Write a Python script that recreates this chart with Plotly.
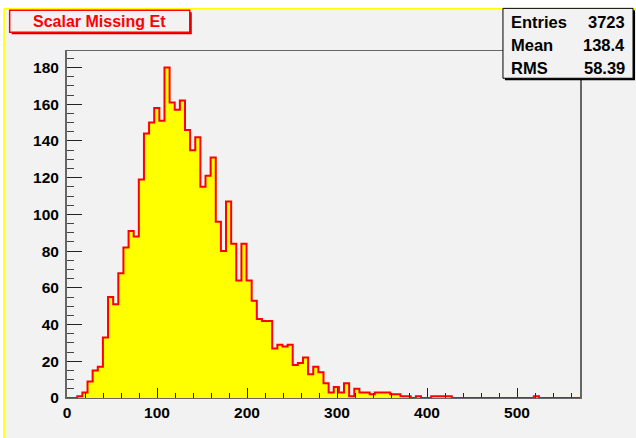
import plotly.graph_objects as go

# ---- data (100 bins from 0 to 570) ----
bin_low = 0.0
bin_high = 570.0
counts = [0, 0, 1, 3, 9, 15, 17, 33, 55, 51,
          68, 82, 91, 88, 119, 144, 150, 158, 151, 180,
          161, 157, 162, 146, 135, 142, 115, 121, 131, 96,
          80, 107, 84, 64, 84, 64, 53, 43, 42, 42,
          27, 29, 28, 29, 18, 19, 22, 13, 17, 14,
          8, 3, 6, 3, 8, 1, 5, 3, 3, 2,
          3, 3, 3, 2, 2, 1, 1, 0, 1, 0,
          0, 1, 1, 1, 1, 0, 0, 0, 0, 0,
          0, 0, 0, 0, 0, 0, 0, 0, 0, 0,
          0, 1, 0, 0, 0, 0, 0, 0, 0, 0]
x_ticks = [0, 100, 200, 300, 400, 500]
y_ticks = [0, 20, 40, 60, 80, 100, 120, 140, 160, 180]
title_text = "Scalar Missing Et"
stats_labels = ["Entries", "Mean", "RMS"]
stats_values = ["3723", "138.4", "58.39"]

nb = len(counts)
bw = (bin_high - bin_low) / nb
edges = [bin_low + i * bw for i in range(nb + 1)]
xs = [bin_low] + edges[:-1] + [bin_high, bin_high]
ys = [0] + counts + [counts[-1], 0]

# ---- geometry ----
FW, FH = 636, 438
L, R, T, B = 67.3, 580.0, 50.7, 398.3
W, H = R - L, B - T
def px(x):
    return (x - L) / W
def py(y):
    return (B - y) / H

BG = "#f2f2f2"
FONT = "Liberation Sans"

fig = go.Figure()
fig.add_trace(go.Scatter(
    x=xs, y=ys, mode="lines", line=dict(shape="hv", color="#ff0000", width=2),
    fill="tozeroy", fillcolor="#ffff00", hoverinfo="skip", showlegend=False,
))

shapes = []
annotations = []
# white strips outside the pad + yellow pad border
shapes.append(dict(type="rect", xref="paper", yref="paper", x0=px(-5), x1=px(FW + 5), y0=py(-5), y1=py(8),
                   fillcolor="white", line=dict(width=0), layer="below"))
shapes.append(dict(type="rect", xref="paper", yref="paper", x0=px(-5), x1=px(4), y0=py(FH + 5), y1=py(-5),
                   fillcolor="white", line=dict(width=0), layer="below"))
shapes.append(dict(type="line", xref="paper", yref="paper", x0=px(4.5), x1=px(FW + 5), y0=py(8.5), y1=py(8.5),
                   line=dict(color="#ffff00", width=1.5)))
shapes.append(dict(type="line", xref="paper", yref="paper", x0=px(4.5), x1=px(4.5), y0=py(8.5), y1=py(FH + 5),
                   line=dict(color="#ffff00", width=1.5)))

# title box with shadow
shapes.append(dict(type="rect", xref="paper", yref="paper", x0=px(12), x1=px(192), y0=py(34), y1=py(12),
                   fillcolor="#cc0000", line=dict(width=0)))
shapes.append(dict(type="rect", xref="paper", yref="paper", x0=px(10), x1=px(190), y0=py(32), y1=py(10),
                   fillcolor=BG, line=dict(color="#ff0000", width=1.5)))
annotations.append(dict(xref="paper", yref="paper", x=px(100), y=py(21), text="<b>%s</b>" % title_text,
                        showarrow=False, font=dict(family=FONT, size=16, color="#ff0000"),
                        xanchor="center", yanchor="middle"))

# stats box with shadow
shapes.append(dict(type="rect", xref="paper", yref="paper", x0=px(505), x1=px(635), y0=py(80), y1=py(10),
                   fillcolor="#000000", line=dict(width=0)))
shapes.append(dict(type="rect", xref="paper", yref="paper", x0=px(503), x1=px(633), y0=py(78), y1=py(8),
                   fillcolor=BG, line=dict(color="#000000", width=1)))
row_y = [22, 45, 68]
for lab, val, yy in zip(stats_labels, stats_values, row_y):
    annotations.append(dict(xref="paper", yref="paper", x=px(509), y=py(yy), text="<b>%s</b>" % lab,
                            showarrow=False, font=dict(family=FONT, size=16.5, color="black"),
                            xanchor="left", yanchor="middle"))
    annotations.append(dict(xref="paper", yref="paper", x=px(627), y=py(yy), text="<b>%s</b>" % val,
                            showarrow=False, font=dict(family=FONT, size=16.5, color="black"),
                            xanchor="right", yanchor="middle"))

fig.update_layout(
    width=FW, height=FH, autosize=False,
    margin=dict(l=L, r=FW - R, t=T, b=FH - B, pad=0),
    paper_bgcolor=BG, plot_bgcolor=BG,
    shapes=shapes, annotations=annotations, showlegend=False,
    font=dict(family=FONT, size=14, color="black"),
)
fig.update_xaxes(
    range=[bin_low, bin_high], tickvals=x_ticks, ticktext=["<b>%d</b>" % v for v in x_ticks],
    ticks="inside", ticklen=10, tickcolor="#222", tickwidth=1,
    minor=dict(dtick=20, tick0=0, ticks="inside", ticklen=5, tickcolor="#222"),
    showgrid=False, zeroline=False, showline=True, linecolor="#666", linewidth=1, mirror=True,
    tickfont=dict(family=FONT, size=15.5, color="black"),
)
fig.update_yaxes(
    range=[0, 189], tickvals=y_ticks, ticktext=["<b>%d</b>" % v for v in y_ticks],
    ticks="inside", ticklen=15, tickcolor="#222", tickwidth=1,
    minor=dict(dtick=5, tick0=0, ticks="inside", ticklen=7, tickcolor="#444"),
    showgrid=False, zeroline=False, showline=True, linecolor="#666", linewidth=2, mirror=True,
    tickfont=dict(family=FONT, size=15.5, color="black"), ticklabelstandoff=3,
)

fig.write_html(
    "out.html",
    config={"displayModeBar": False},
    post_script="document.body.style.margin='0';document.body.style.padding='0';"
                "document.documentElement.style.overflow='hidden';",
)
